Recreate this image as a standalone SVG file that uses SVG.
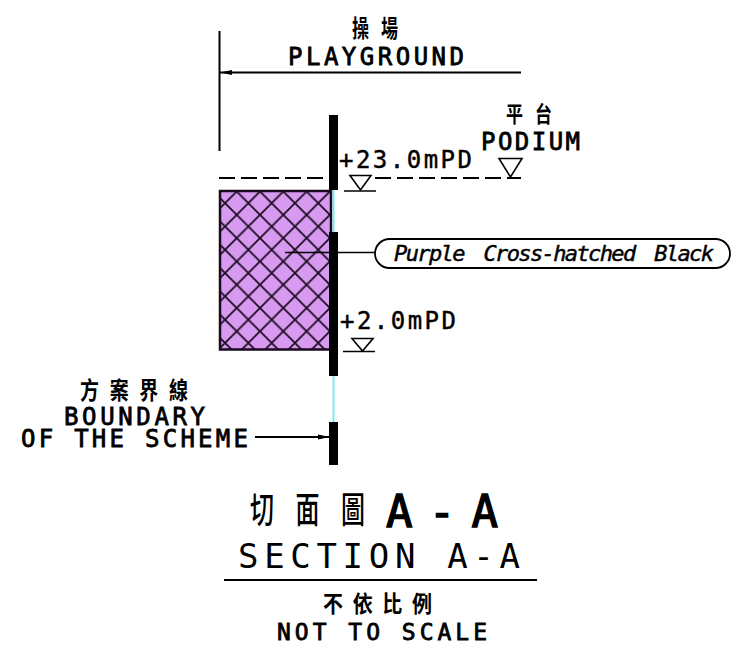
<svg xmlns="http://www.w3.org/2000/svg" width="737" height="645" viewBox="0 0 737 645">
<style>
.t{font-family:"DejaVu Sans Mono","Liberation Mono",monospace;fill:#000;stroke:#000;stroke-width:.45}
.b{stroke-width:.8}
.c{font-family:"Noto Sans CJK TC","Noto Sans CJK SC",sans-serif;fill:#000;font-weight:700}
.l{stroke:#000;stroke-width:2;fill:none}
.n{stroke:#000;stroke-width:1.5;fill:none}
.bar{fill:#000}
.tri{fill:none;stroke:#000;stroke-width:1.6}
</style>
<defs>
<pattern id="hatch" patternUnits="userSpaceOnUse" x="236.700" y="191.500" width="23.300" height="23.300">
<path d="M0 0L23.300 23.300M23.300 0L0 23.300" stroke="#1a0a1f" stroke-width="1.800"/>
</pattern>
<marker id="arr" markerWidth="12" markerHeight="8" refX="12" refY="4" orient="auto" markerUnits="userSpaceOnUse"><path d="M12 4L0 1.500V6.500Z" fill="#000"/></marker>
</defs>
<rect width="737" height="645" fill="#fff"/>
<g id="hatched-block">
<rect x="220" y="191" width="111" height="158.500" fill="#d89af0"/>
<rect x="220" y="191" width="111" height="158.500" fill="url(#hatch)" stroke="#1a0a1f" stroke-width="2.500"/>
</g>
<g id="boundary">
<path d="M333.500 189V422" stroke="#7fe8ee" stroke-width="2" fill="none"/>
<rect class="bar" x="329" y="115" width="9" height="75"/>
<rect class="bar" x="329" y="232" width="9" height="144"/>
<rect class="bar" x="329" y="422" width="9" height="43"/>
</g>
<g id="connectors">
<path class="l" d="M219.500 31V151"/>
<path class="l" d="M521 72.500H220" marker-end="url(#arr)"/>
<path class="l" d="M219 178H328" stroke-dasharray="16 6"/>
<path class="l" d="M375 178H521" stroke-dasharray="16 6"/>
<path class="n" d="M285 252.500H375"/>
<path class="l" d="M255 437H330" marker-end="url(#arr)"/>
</g>
<g id="playground">
<text class="c" transform="translate(352 37) scale(1 1.400)" font-size="17" textLength="46" lengthAdjust="spacing">操場</text>
<text class="t b" x="288" y="65" font-size="24" textLength="176" lengthAdjust="spacing">PLAYGROUND</text>
</g>
<g id="podium">
<text class="c" transform="translate(506 122) scale(1 1.300)" font-size="17" textLength="46" lengthAdjust="spacing">平台</text>
<text class="t b" x="481" y="150" font-size="24" textLength="99" lengthAdjust="spacing">PODIUM</text>
<path class="tri" d="M499 158.500H522L510.500 177Z"/>
</g>
<g id="level-23">
<text class="t" x="339" y="168" font-size="24" textLength="133" lengthAdjust="spacing">+23.0mPD</text>
<path class="tri" d="M350 175.500H371L360.500 190Z"/>
<path class="n" d="M344 191H376"/>
</g>
<g id="material-label">
<rect x="375" y="239" width="355" height="29" rx="14.500" fill="#fff" stroke="#000" stroke-width="1.800"/>
<text class="t" x="394" y="261" font-size="22" font-style="italic" word-spacing="8" textLength="320" lengthAdjust="spacing">Purple Cross-hatched Black</text>
</g>
<g id="level-2">
<text class="t" x="340" y="329" font-size="24" textLength="116" lengthAdjust="spacing">+2.0mPD</text>
<path class="tri" d="M352 338.500H373L362.500 351Z"/>
<path class="n" d="M343 351.500H375"/>
</g>
<g id="boundary-label">
<text class="c" transform="translate(80 399) scale(1 1.250)" font-size="19" textLength="108" lengthAdjust="spacing">方案界線</text>
<text class="t b" x="64" y="425" font-size="24" textLength="141" lengthAdjust="spacing">BOUNDARY</text>
<text class="t b" x="21" y="447" font-size="24" textLength="227" lengthAdjust="spacing" xml:space="preserve">OF THE SCHEME</text>
</g>
<g id="title">
<text class="c" transform="translate(250 523) scale(1 1.500)" font-size="24" style="font-weight:500" textLength="115" lengthAdjust="spacing">切面圖</text>
<text class="t" style="stroke-width:1.400" x="386" y="527" font-size="44" textLength="112" lengthAdjust="spacing" xml:space="preserve">A - A</text>
<text class="t" style="stroke-width:0" x="238" y="568" font-size="34" textLength="282" lengthAdjust="spacing" xml:space="preserve">SECTION A-A</text>
<path class="l" d="M224 580H537"/>
<text class="c" transform="translate(323 612) scale(1 1.150)" font-size="20" textLength="109" lengthAdjust="spacing">不依比例</text>
<text class="t b" x="277" y="640" font-size="23" textLength="210" lengthAdjust="spacing" xml:space="preserve">NOT TO SCALE</text>
</g>
</svg>
